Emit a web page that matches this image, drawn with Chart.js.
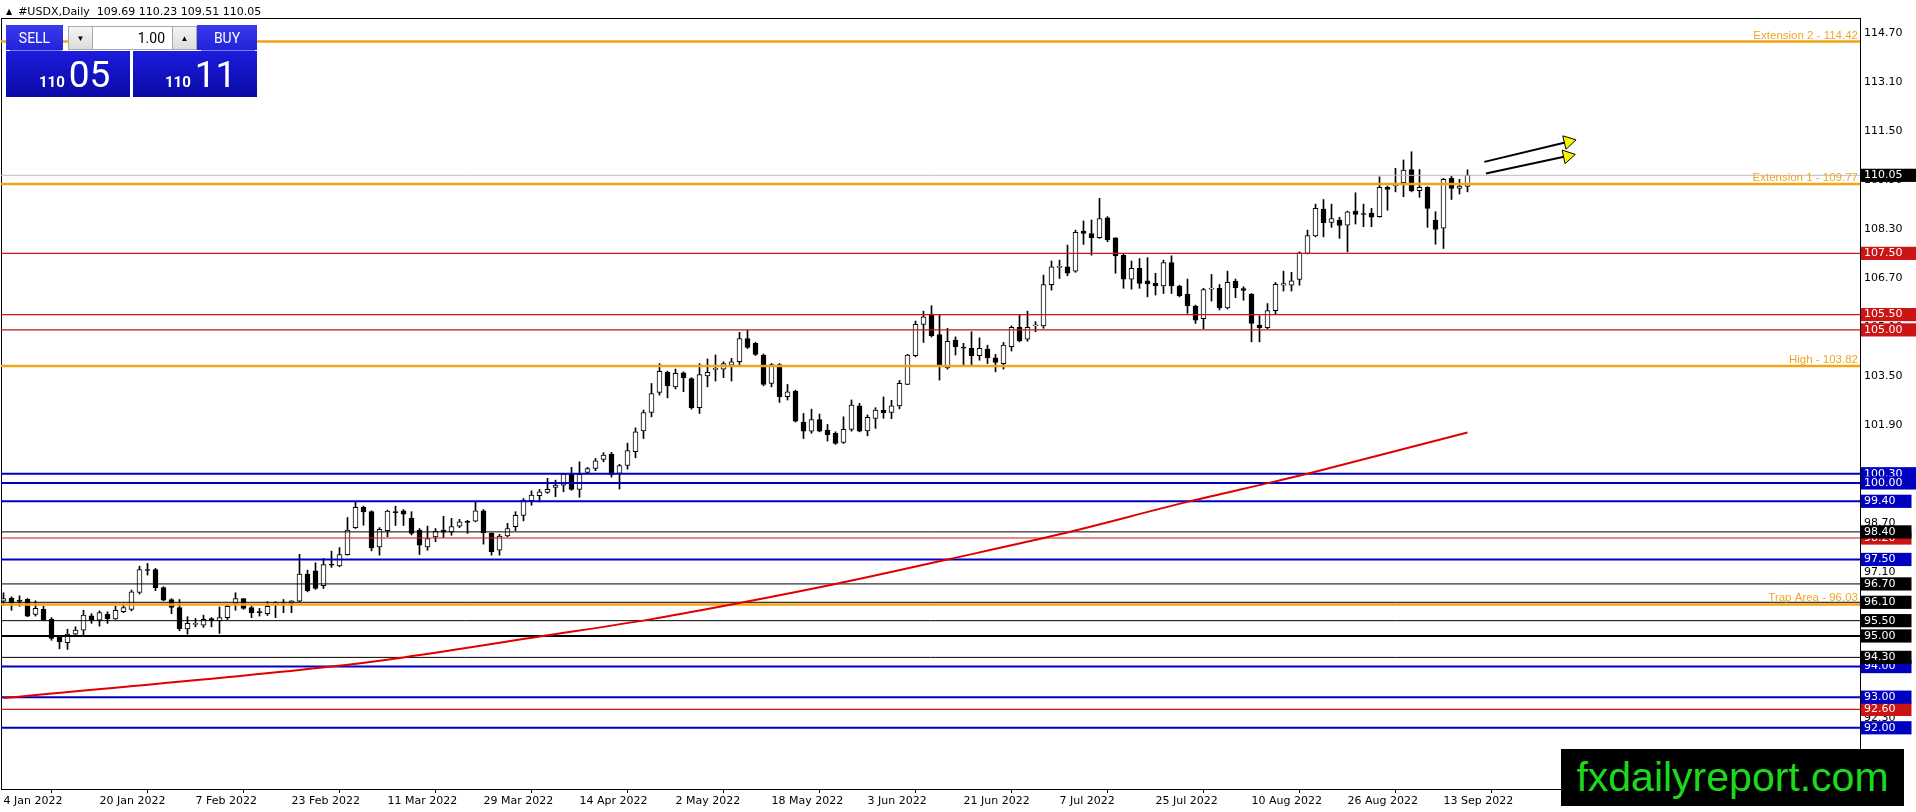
<!DOCTYPE html>
<html>
<head>
<meta charset="utf-8">
<script src="https://cdn.jsdelivr.net/npm/chart.js@4.4.1/dist/chart.umd.min.js"></script>
<style>
html,body{margin:0;padding:0;background:#fff;}
#wrap{position:relative;width:1916px;height:812px;overflow:hidden;background:#fff;}
#c{position:absolute;left:0;top:0;}
.ov{position:absolute;box-sizing:border-box;white-space:nowrap;}
#hdr{left:6px;top:5px;font:11px "DejaVu Sans";line-height:14px;color:#000;white-space:pre;}
#hdr .tri{font-size:8px;vertical-align:1px;margin-right:6px;}
.btn{top:25px;height:25px;color:#fff;font:14px Roboto;display:flex;align-items:center;justify-content:center;background:linear-gradient(#3a3aee,#2222d8);}
.sep{top:50px;height:1px;background:#7d7df4;}
.ctl{top:26px;height:24px;border:1px solid #a9a9a9;background:linear-gradient(#f4f4f4,#dcdcdc);display:flex;align-items:center;justify-content:center;font-size:8px;color:#000;}
.inp{top:26px;height:24px;border:1px solid #a9a9a9;background:#fff;font:14px Roboto;color:#000;text-align:right;padding-right:7px;line-height:22px;}
.big{top:51px;height:46px;background:linear-gradient(#1c1cdc,#0909a6);}
.px{top:56px;color:#fff;font-family:Roboto;font-size:37px;line-height:37px;}
.px b{font-size:15px;font-weight:700;margin-right:4px;}
#wm{left:1561px;top:749px;width:343px;height:57px;background:#000;color:#1ed81e;font:41px "Liberation Sans";line-height:57px;text-align:center;}
</style>
</head>
<body>
<div id="wrap">
<canvas id="c" width="1916" height="812" style="width:1916px;height:812px"></canvas>
<div class="ov" id="hdr"><span class="tri">&#9650;</span>#USDX,Daily  109.69 110.23 109.51 110.05</div>
<div class="ov btn" style="left:6px;width:57px;">SELL</div>
<div class="ov sep" style="left:10px;width:52px;"></div>
<div class="ov ctl" style="left:68px;width:25px;">&#9660;</div>
<div class="ov inp" style="left:92px;width:81px;">1.00</div>
<div class="ov ctl" style="left:172px;width:25px;">&#9650;</div>
<div class="ov btn" style="left:197px;width:60px;">BUY</div>
<div class="ov sep" style="left:201px;width:54px;"></div>
<div class="ov big" style="left:6px;width:124px;"></div>
<div class="ov big" style="left:133px;width:124px;"></div>
<div class="ov px" style="left:39px;"><b>110</b>05</div>
<div class="ov px" style="left:165px;"><b>110</b>11</div>
<div class="ov" id="wm">fxdailyreport.com</div>
</div>
<script>
// ---------- DATA ----------
const dateIdx = [0,12,24,36,48,60,72,84,96,108,120,132,144,156,168,180];
const dateLabels = ['4 Jan 2022','20 Jan 2022','7 Feb 2022','23 Feb 2022','11 Mar 2022','29 Mar 2022','14 Apr 2022','2 May 2022','18 May 2022','3 Jun 2022','21 Jun 2022','7 Jul 2022','25 Jul 2022','10 Aug 2022','26 Aug 2022','13 Sep 2022'];

const opens = [
96.14,96.24,96.17,96.20,95.70,95.87,95.55,94.97,94.78,95.06,
95.19,95.66,95.52,95.71,95.56,95.79,95.87,96.42,97.16,97.17,
96.58,96.19,95.93,95.23,95.38,95.35,95.57,95.50,95.60,96.06,
96.22,95.93,95.79,95.73,96.05,96.07,96.06,96.14,97.02,97.13,
96.64,97.35,97.29,97.66,98.54,99.20,99.06,97.91,98.44,99.05,
99.09,98.84,98.46,97.91,98.24,98.46,98.40,98.59,98.74,98.75,
99.09,98.35,97.80,98.27,98.57,98.94,99.42,99.58,99.69,99.85,
99.93,100.28,99.79,100.34,100.47,100.77,100.94,100.31,100.57,101.02,
101.70,102.30,102.96,103.61,103.14,103.60,103.41,102.46,103.50,103.71,
103.72,103.85,103.96,104.72,104.56,104.18,103.25,103.87,102.82,103.00,
101.99,101.69,102.07,101.73,101.62,101.32,101.75,102.52,101.70,102.11,
102.37,102.30,102.52,103.22,104.16,105.18,105.48,104.85,103.76,104.67,
104.44,104.40,104.16,104.37,104.09,103.90,104.45,105.08,104.70,105.13,
105.13,106.48,107.04,107.06,106.92,108.23,108.15,108.01,108.66,108.01,
107.44,106.66,107.01,106.60,106.52,106.44,107.20,106.43,106.16,105.78,
105.37,106.33,106.36,105.72,106.59,106.35,106.16,105.16,105.07,105.63,
106.46,106.46,106.65,107.50,108.07,108.95,108.51,108.59,108.42,108.88,
108.79,108.81,108.70,109.66,109.70,109.81,110.24,109.55,109.66,108.59,
108.32,109.95,109.62,109.69];

const highs = [
96.41,96.28,96.31,96.22,96.15,95.97,95.60,95.00,95.22,95.30,
95.84,95.73,95.82,95.79,95.97,96.04,96.50,97.28,97.37,97.21,
96.61,96.22,96.19,95.63,95.57,95.68,95.60,95.95,96.01,96.41,
96.22,95.97,95.90,96.12,96.12,96.19,96.15,97.67,97.15,97.39,
97.53,97.77,97.89,98.87,99.38,99.24,99.09,98.54,99.11,99.24,
99.13,99.06,98.51,98.59,98.51,98.91,98.84,98.81,98.78,99.38,
99.13,98.37,98.32,98.68,99.06,99.49,99.74,99.79,100.15,100.09,
100.31,100.51,100.69,100.51,100.80,100.99,101.00,100.61,101.30,101.80,
102.38,103.25,103.90,103.65,103.72,103.63,103.44,103.90,104.05,104.18,
103.96,104.07,104.92,104.99,104.59,104.21,103.90,103.90,103.22,103.03,
102.27,102.41,102.25,101.91,101.67,102.16,102.71,102.60,102.22,102.46,
102.81,102.70,103.35,104.20,105.29,105.61,105.79,105.51,105.05,104.77,
104.56,104.94,104.74,104.50,104.20,104.59,105.13,105.51,105.61,105.27,
106.79,107.25,107.28,107.77,108.26,108.56,108.59,109.30,108.70,108.01,
107.50,107.25,107.33,107.36,106.85,107.28,107.42,106.46,106.66,105.81,
106.36,106.81,106.48,106.92,106.66,106.41,106.19,105.46,105.86,106.55,
106.92,106.88,107.55,108.26,109.11,109.26,109.11,108.68,108.88,109.48,
109.11,108.97,110.00,109.70,110.28,110.55,110.82,110.24,109.68,108.86,
109.95,110.02,109.92,110.23];

const lows = [
96.01,95.84,95.97,95.63,95.65,95.50,94.86,94.58,94.56,95.00,
95.03,95.41,95.32,95.41,95.54,95.76,95.82,96.37,96.99,96.48,
96.15,95.73,95.17,95.06,95.30,95.28,95.30,95.08,95.54,95.84,
95.87,95.60,95.65,95.67,95.60,95.76,95.76,96.12,96.44,96.52,
96.55,97.24,97.26,97.64,98.51,98.62,97.78,97.64,98.24,98.61,
98.61,98.30,97.66,97.80,98.08,98.22,98.29,98.54,98.35,98.73,
98.00,97.64,97.64,98.24,98.44,98.76,99.27,99.38,99.66,99.55,
99.71,99.76,99.53,100.31,100.40,100.69,100.19,99.80,100.45,100.82,
101.45,102.16,102.87,102.78,103.07,102.98,102.41,102.27,103.14,103.33,
103.44,103.33,103.87,104.39,104.16,103.17,103.14,102.63,102.71,101.99,
101.45,101.62,101.67,101.37,101.26,101.29,101.69,101.67,101.54,101.78,
102.11,102.10,102.42,103.21,104.12,104.59,104.77,103.36,103.72,104.18,
103.85,103.85,104.01,103.90,103.63,103.72,104.31,104.61,104.63,104.94,
105.05,106.30,106.68,106.77,106.88,107.79,107.44,107.99,107.88,106.85,
106.36,106.33,106.36,106.08,106.14,106.19,106.19,106.08,105.54,105.21,
105.03,105.94,105.65,105.68,106.05,105.97,104.61,104.61,105.03,105.51,
106.27,106.27,106.46,107.48,108.04,108.04,108.35,107.99,107.55,108.46,
108.37,108.37,108.68,108.91,109.51,109.35,109.51,109.33,108.35,107.80,
107.66,109.26,109.44,109.51];

const closes = [
96.22,96.08,96.13,95.65,95.90,95.52,94.92,94.81,95.06,95.19,
95.68,95.52,95.76,95.56,95.84,95.93,96.44,97.17,97.14,96.58,
96.17,95.93,95.24,95.41,95.39,95.54,95.50,95.60,95.97,96.22,
95.90,95.76,95.76,95.97,96.06,96.09,96.15,97.02,96.48,96.55,
97.33,97.31,97.66,98.46,99.20,99.05,97.88,98.48,99.08,99.03,
98.98,98.35,97.97,98.18,98.42,98.39,98.57,98.73,98.71,99.09,
98.37,97.75,98.26,98.51,98.94,99.44,99.60,99.71,99.79,99.93,
100.29,99.79,100.28,100.47,100.72,100.91,100.27,100.57,101.06,101.67,
102.30,102.92,103.65,103.17,103.58,103.44,102.46,103.54,103.61,103.74,
103.90,103.96,104.72,104.43,104.20,103.22,103.87,102.82,102.98,102.02,
101.69,102.07,101.69,101.58,101.29,101.75,102.54,101.69,102.14,102.38,
102.29,102.52,103.25,104.18,105.18,105.43,104.81,103.85,104.63,104.45,
104.40,104.16,104.40,104.09,103.94,104.50,105.08,104.64,105.08,105.15,
106.48,107.06,107.06,106.85,108.19,108.15,108.01,108.64,107.94,107.42,
106.66,107.01,106.52,106.50,106.44,107.20,106.44,106.12,105.79,105.32,
106.32,106.34,105.72,106.55,106.38,106.29,105.21,105.07,105.63,106.49,
106.51,106.60,107.52,108.08,108.97,108.50,108.64,108.41,108.86,108.77,
108.77,108.68,109.66,109.59,109.75,110.22,109.55,109.66,108.97,108.28,
109.92,109.62,109.70,110.05];

// 200-period moving average, read at a few bars
const maBars   = [0, 41, 50, 67, 81, 90, 104, 118, 132, 148, 159, 163, 183];
const maValues = [92.97, 94.00, 94.30, 94.98, 95.55, 95.98, 96.70, 97.50, 98.32, 99.38, 100.05, 100.30, 101.65];

// horizontal levels
const axisTickValues = [114.70,113.10,111.50,109.90,108.30,106.70,105.10,103.50,101.90,100.30,98.70,97.10,95.50,93.90,92.30,90.70];
const redLevels = [107.50,105.50,105.00,98.20,92.60];
const blueLevels = [100.30,100.00,99.40,97.50,94.00,93.00,92.00];
const blackLevels = [98.40,96.70,96.10,95.50,95.00,94.30];
const orangeLevels = [114.42,109.77,103.82,96.03];
const orangeLabels = ['Extension 2 - 114.42','Extension 1 - 109.77','High - 103.82','Trap Area - 96.03'];
const bidPrice = 110.05;

// arrows (bar position, price)
const arrowUpperBars = [185.1, 195.6];
const arrowUpperValues = [110.49, 111.15];
const arrowLowerBars = [185.3, 195.5];
const arrowLowerValues = [110.11, 110.68];

// ---------- STYLE ----------
const COL = {red:'#cc1414', blue:'#0000c0', black:'#000000', orange:'#f2a516', orangeText:'#eea62a', bid:'#bdbdbd', ma:'#e00000'};
const X_MIN = -0.3125, X_MAX = 232.0625;
const Y_MIN = 90.0, Y_MAX = 115.19;
Chart.defaults.font.family = 'DejaVu Sans';

const idx = opens.map((_, i) => i);

function levelDataset(v, color, width, order) {
  return {type:'line', data:[{x:X_MIN, y:v}, {x:X_MAX, y:v}], borderColor:color, borderWidth:width,
          pointRadius:0, pointHoverRadius:0, order:order, xAxisID:'x', yAxisID:'y'};
}

const datasets = [];
// wicks
datasets.push({type:'bar', data: idx.map(i => ({x:i, y:[lows[i], highs[i]]})), backgroundColor:'#000',
  borderWidth:0, barThickness:1, grouped:false, order:6, xAxisID:'x', yAxisID:'y'});
// bodies
datasets.push({type:'bar', data: idx.map(i => ({x:i, y:[opens[i], closes[i]]})),
  backgroundColor: idx.map(i => closes[i] >= opens[i] ? '#ffffff' : '#000000'),
  borderColor:'#000', borderWidth:1, borderSkipped:false, barThickness:5, minBarLength:1,
  grouped:false, order:5, xAxisID:'x', yAxisID:'y'});
// levels
datasets.push(levelDataset(bidPrice, COL.bid, 1, 4));
redLevels.forEach(v => datasets.push(levelDataset(v, COL.red, 1.2, 4)));
blackLevels.forEach(v => datasets.push(levelDataset(v, COL.black, v === 95.00 ? 2 : 1, 4)));
blueLevels.forEach(v => datasets.push(levelDataset(v, COL.blue, 2, 3)));
orangeLevels.forEach(v => datasets.push(levelDataset(v, COL.orange, 2.5, 2)));
// moving average
datasets.push({type:'line', data: maBars.map((b, k) => ({x:b, y:maValues[k]})), borderColor:COL.ma,
  borderWidth:2, pointRadius:0, pointHoverRadius:0, cubicInterpolationMode:'monotone', order:1, xAxisID:'x', yAxisID:'y'});
// arrows
function arrowDataset(bars, vals, rot) {
  return {type:'line', data: bars.map((b, k) => ({x:b, y:vals[k]})), borderColor:'#000', borderWidth:2,
    pointRadius:[0, 8], pointHoverRadius:0, pointStyle:'triangle', pointRotation:[0, rot], pointBackgroundColor:'#f5f500',
    pointBorderColor:'#000', pointBorderWidth:1, order:0, xAxisID:'x', yAxisID:'y'};
}
datasets.push(arrowDataset(arrowUpperBars, arrowUpperValues, 76.5));
datasets.push(arrowDataset(arrowLowerBars, arrowLowerValues, 78));

// y-axis tick list: plain ticks first, then boxed level labels
const yTicks = [];
axisTickValues.forEach(v => yTicks.push({v:v, box:null}));
redLevels.forEach(v => yTicks.push({v:v, box:COL.red}));
blueLevels.forEach(v => yTicks.push({v:v, box:COL.blue}));
blackLevels.forEach(v => yTicks.push({v:v, box:'#000000'}));
yTicks.push({v:bidPrice, box:'#000000'});

const levelTextPlugin = {
  id:'levelText',
  afterDatasetsDraw(chart) {
    const {ctx, chartArea, scales} = chart;
    ctx.save();
    ctx.font = '11.5px "Liberation Sans"';
    ctx.fillStyle = COL.orangeText;
    ctx.textAlign = 'right';
    ctx.textBaseline = 'alphabetic';
    orangeLevels.forEach((v, i) => ctx.fillText(orangeLabels[i], chartArea.right - 2, scales.y.getPixelForValue(v) - 3));
    ctx.restore();
  }
};

function noPad(s) { s.paddingLeft = 0; s.paddingRight = 0; s.paddingTop = 0; s.paddingBottom = 0; }

new Chart(document.getElementById('c'), {
  type:'bar',
  data:{datasets:datasets},
  options:{
    responsive:false, animation:false, devicePixelRatio:1, events:[],
    layout:{autoPadding:false, padding:{top:18, left:0, right:0, bottom:0}},
    plugins:{legend:{display:false}, tooltip:{enabled:false}},
    scales:{
      x:{type:'linear', position:'bottom', min:X_MIN, max:X_MAX, offset:false,
        grid:{display:true, drawOnChartArea:false, drawTicks:true, tickLength:4, color:'#000'},
        border:{display:true, color:'#000', width:1},
        ticks:{autoSkip:false, maxRotation:0, minRotation:0, align:'start', padding:2, color:'#000',
          font:{family:'DejaVu Sans', size:11},
          callback:(v) => { const k = dateIdx.indexOf(v); return k >= 0 ? dateLabels[k] : ''; }},
        afterBuildTicks:(s) => { s.ticks = dateIdx.map(v => ({value:v})); },
        afterFit:(s) => { s.height = 23; noPad(s); }
      },
      xT:{type:'linear', position:'top', display:true,
        grid:{display:true, drawOnChartArea:false, drawTicks:false},
        border:{display:true, color:'#000', width:1},
        ticks:{display:false},
        afterFit:(s) => { s.height = 0; noPad(s); }
      },
      yL:{type:'linear', position:'left', display:true,
        grid:{display:true, drawOnChartArea:false, drawTicks:false},
        border:{display:true, color:'#000', width:1},
        ticks:{display:false},
        afterFit:(s) => { s.width = 1; noPad(s); }
      },
      y:{type:'linear', position:'right', min:Y_MIN, max:Y_MAX,
        grid:{display:true, drawOnChartArea:false, drawTicks:false},
        border:{display:true, color:'#000', width:1},
        ticks:{autoSkip:false, padding:4, font:{family:'DejaVu Sans', size:11},
          callback:(v) => Number(v).toFixed(2),
          color:(c) => (yTicks[c.index] && yTicks[c.index].box) ? '#ffffff' : '#000000',
          showLabelBackdrop:(c) => !!(yTicks[c.index] && yTicks[c.index].box),
          backdropColor:(c) => (yTicks[c.index] && yTicks[c.index].box) || 'rgba(0,0,0,0)',
          backdropPadding:{left:3, right:16, top:0, bottom:0}},
        afterBuildTicks:(s) => { s.ticks = yTicks.map(t => ({value:t.v})); },
        afterFit:(s) => { s.width = 56; noPad(s); }
      }
    }
  },
  plugins:[levelTextPlugin]
});
</script>
</body>
</html>
